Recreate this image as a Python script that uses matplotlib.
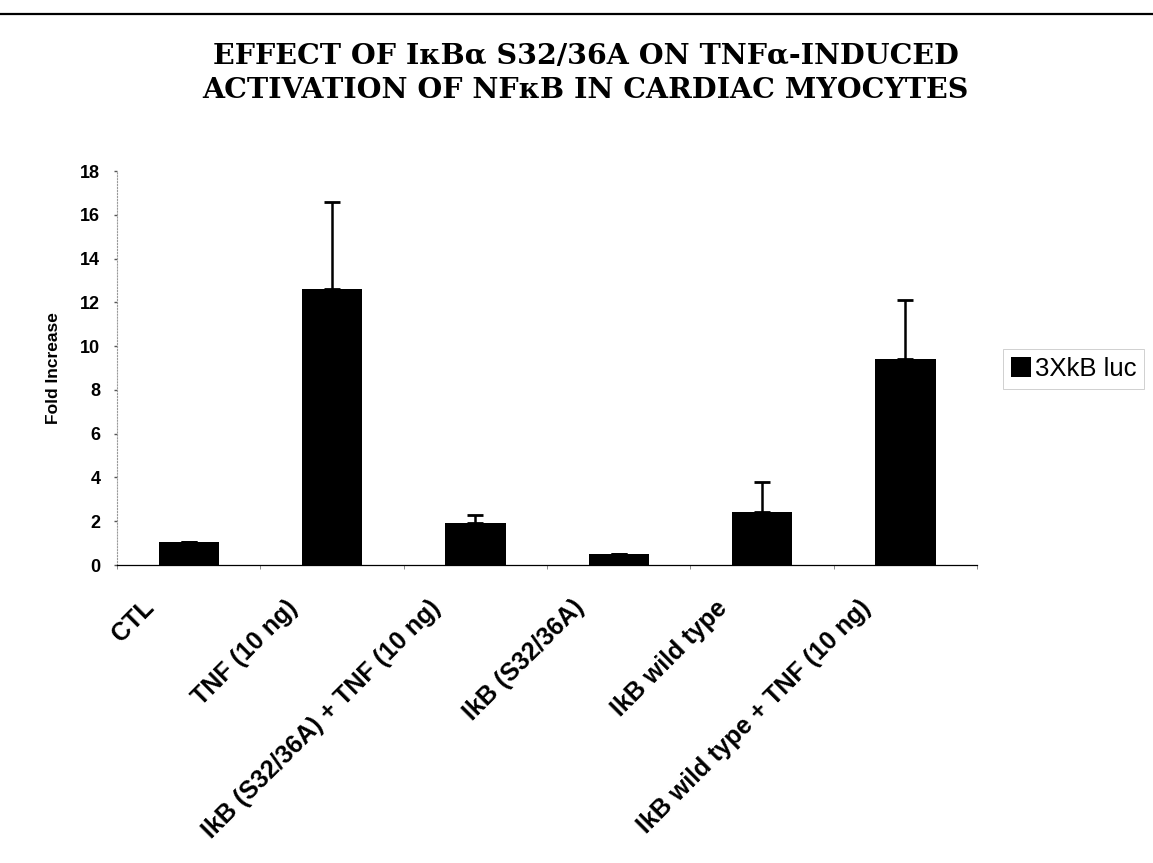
import matplotlib
matplotlib.use("Agg")
import matplotlib.pyplot as plt
from matplotlib.lines import Line2D
from matplotlib.transforms import ScaledTranslation
import numpy as np

# data
categories = ["CTL", "TNF (10 ng)", "IkB (S32/36A) + TNF (10 ng)",
              "IkB (S32/36A)", "IkB wild type", "IkB wild type + TNF (10 ng)"]
fold_increase = [1.05, 12.6, 1.9, 0.5, 2.4, 9.4]
error_up = [0.0, 4.0, 0.4, 0.0, 1.4, 2.7]
y_ticks = [0, 2, 4, 6, 8, 10, 12, 14, 16, 18]
series_name = "3XkB luc"

title_line1 = "EFFECT OF I\u03baB\u03b1 S32/36A ON TNF\u03b1-INDUCED"
title_line2 = "ACTIVATION OF NF\u03baB IN CARDIAC MYOCYTES"

plt.rcParams['font.family'] = ['Liberation Sans', 'DejaVu Sans']

fig = plt.figure(figsize=(11.53, 8.63), dpi=100)
ax = fig.add_axes([0.1015, 0.3453, 0.746, 0.4565])

x = np.arange(len(categories))
bars = ax.bar(x, fold_increase, width=0.42, color='black', label=series_name, zorder=2)
ax.errorbar(x, fold_increase, yerr=[np.zeros(len(error_up)), error_up], fmt='none',
            ecolor='black', elinewidth=1.8, capsize=6, capthick=2, zorder=3)

ax.set_xlim(-0.5, len(categories) - 0.5)
ax.set_ylim(0, 18)
ax.set_yticks(y_ticks)
ax.set_yticklabels([str(t) for t in y_ticks], fontsize=13, fontweight='bold')
ax.tick_params(axis='y', length=2, width=1, pad=10, color='#555555')

ax.set_xticks(x)
ax.set_xticklabels(categories, fontsize=18, fontweight='bold', rotation=45,
                   ha='right', va='top', rotation_mode='anchor')
ax.tick_params(axis='x', length=0, pad=22)
ax.set_xticks(np.arange(-0.5, len(categories), 1), minor=True)
ax.tick_params(axis='x', which='minor', length=3, color='#777777')
shift = ScaledTranslation(-0.47, 0, fig.dpi_scale_trans)
for lab in ax.get_xticklabels():
    lab.set_transform(lab.get_transform() + shift)

ax.set_ylabel("Fold Increase", fontsize=12.5, fontweight='bold', labelpad=14)

for side in ['top', 'right']:
    ax.spines[side].set_visible(False)
ax.spines['left'].set_color('#9a9a9a')
ax.spines['left'].set_linestyle(':')
ax.spines['left'].set_linewidth(0.8)
ax.spines['bottom'].set_linewidth(0.9)

leg = fig.legend(loc='center left', bbox_to_anchor=(1003 / 1153, 1 - 369 / 863),
                 borderaxespad=0, fontsize=18.5, frameon=True, fancybox=False,
                 borderpad=0.3, handlelength=0.8, handleheight=0.8, handletextpad=0.15)
leg.get_frame().set_edgecolor('#bbbbbb')
leg.get_frame().set_linewidth(0.6)

# title and the rule at the top of the page
fig.text(0.508, 1 - 57 / 863, title_line1, ha='center', va='center',
         family='DejaVu Serif', fontweight='bold', fontsize=20.5)
fig.text(0.508, 1 - 90 / 863, title_line2, ha='center', va='center',
         family='DejaVu Serif', fontweight='bold', fontsize=20.5)
fig.add_artist(Line2D([0.0, 1.0], [1 - 14 / 863, 1 - 14 / 863], color='black',
                      linewidth=1.6, transform=fig.transFigure))

fig.savefig("out.png", dpi=100)
